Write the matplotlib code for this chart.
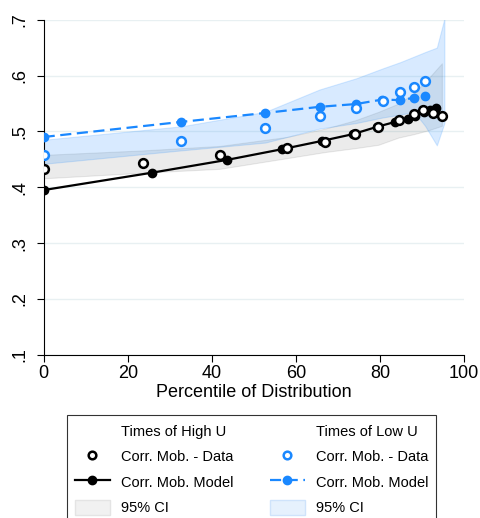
import matplotlib

matplotlib.use("Agg")
import matplotlib.pyplot as plt  # noqa: E402
from matplotlib.lines import Line2D  # noqa: E402
from matplotlib.patches import Patch  # noqa: E402

plt.rcParams["font.family"] = ["Liberation Sans", "DejaVu Sans"]

BLUE = "#1a88ff"

# times of high unemployment
high_data_x = [0, 23.6, 41.9, 57.8, 66.9, 74.1, 79.6, 84.4, 88.0, 90.3, 92.7, 94.7]
high_data_y = [0.433, 0.444, 0.458, 0.470, 0.481, 0.495, 0.508, 0.520, 0.531, 0.538, 0.533, 0.528]
high_model_x = [0, 25.7, 43.6, 56.6, 66.2, 73.5, 79.2, 83.6, 86.6, 88.4, 90.4, 91.8, 93.3]
high_model_y = [0.395, 0.426, 0.449, 0.468, 0.483, 0.495, 0.508, 0.517, 0.523, 0.528, 0.534, 0.538, 0.542]
high_ci_x = [0, 23.6, 41.9, 57.8, 66.9, 74.1, 79.6, 84.4, 88.0, 91.5, 94.7]
high_ci_lo = [0.416, 0.426, 0.433, 0.452, 0.463, 0.470, 0.476, 0.489, 0.495, 0.502, 0.510]
high_ci_hi = [0.458, 0.466, 0.474, 0.490, 0.505, 0.520, 0.535, 0.550, 0.568, 0.595, 0.622]

# times of low unemployment
low_data_x = [0, 32.7, 52.7, 65.6, 74.3, 80.7, 84.8, 88.1, 90.7]
low_data_y = [0.458, 0.483, 0.506, 0.528, 0.541, 0.555, 0.570, 0.580, 0.590]
low_model_x = [0, 32.7, 52.7, 65.6, 74.3, 80.5, 84.8, 88.1, 90.7]
low_model_y = [0.490, 0.517, 0.533, 0.544, 0.549, 0.557, 0.556, 0.560, 0.563]
low_ci_x = [0, 32.7, 52.7, 65.6, 74.3, 80.7, 84.8, 88.1, 90.7, 93.5, 95.3]
low_ci_lo = [0.442, 0.466, 0.480, 0.505, 0.515, 0.525, 0.530, 0.535, 0.510, 0.475, 0.515]
low_ci_hi = [0.485, 0.509, 0.535, 0.575, 0.595, 0.613, 0.624, 0.634, 0.642, 0.650, 0.702]

y_ticks = [0.1, 0.2, 0.3, 0.4, 0.5, 0.6, 0.7]
y_labels = [".1", ".2", ".3", ".4", ".5", ".6", ".7"]
x_ticks = [0, 20, 40, 60, 80, 100]

fig = plt.figure(figsize=(4.8, 5.18), dpi=100)
ax = fig.add_axes([0.091, 0.315, 0.876, 0.647])

ax.fill_between(high_ci_x, high_ci_lo, high_ci_hi, color="black", alpha=0.08, lw=0.8,
                edgecolor=(0, 0, 0, 0.05), zorder=1)
ax.fill_between(low_ci_x, low_ci_lo, low_ci_hi, color=BLUE, alpha=0.17, lw=0.8, zorder=1)

ax.plot(high_model_x, high_model_y, color="black", lw=1.6, marker="o", ms=6, zorder=3)
ax.plot(low_model_x, low_model_y, color=BLUE, lw=1.6, marker="o", ms=6,
        dashes=(5, 2.5), zorder=3)
ax.plot(high_data_x, high_data_y, ls="none", marker="o", ms=6.3, mfc="white", mec="black",
        mew=1.8, zorder=4)
ax.plot(low_data_x, low_data_y, ls="none", marker="o", ms=6.3, mfc="white", mec=BLUE,
        mew=1.8, zorder=4)

ax.set_xlim(0, 100)
ax.set_ylim(0.1, 0.7)
ax.set_xticks(x_ticks)
ax.set_yticks(y_ticks)
ax.set_yticklabels(y_labels, rotation=90, va="center")
ax.tick_params(labelsize=13, length=5, width=0.8)
ax.tick_params(axis="y", pad=6)
ax.tick_params(axis="x", pad=2)
ax.set_xlabel("Percentile of Distribution", fontsize=13, labelpad=2)
ax.grid(axis="y", color="#e8f0f2", lw=1.0)
ax.set_axisbelow(True)
for side in ("top", "right"):
    ax.spines[side].set_visible(False)
for side in ("left", "bottom"):
    ax.spines[side].set_linewidth(0.8)
ax.patch.set_alpha(0)

blank = Line2D([], [], ls="none")
handles = [
    blank,
    Line2D([], [], ls="none", marker="o", ms=5.5, mfc="white", mec="black", mew=1.8),
    Line2D([], [], color="black", lw=1.6, marker="o", ms=6),
    Patch(facecolor="#f1f1f1", edgecolor="#e4e4e4"),
    blank,
    Line2D([], [], ls="none", marker="o", ms=5.5, mfc="white", mec=BLUE, mew=1.8),
    Line2D([], [], color=BLUE, lw=1.6, marker="o", ms=6, dashes=(5, 2.5)),
    Patch(facecolor="#e6f1fd", edgecolor="#cfe3fb"),
]
labels = [
    "Times of High U", "Corr. Mob. - Data", "Corr. Mob. Model", "95% CI",
    "Times of Low U", "Corr. Mob. - Data", "Corr. Mob. Model", "95% CI",
]
leg = fig.legend(handles, labels, ncol=2, loc="upper left", bbox_to_anchor=(0.139, 0.199),
                 fontsize=10.5, frameon=True, fancybox=False, edgecolor="black",
                 handlelength=2.4, handleheight=1.3, handletextpad=0.75, columnspacing=2.5,
                 labelspacing=0.66, borderpad=0.55, borderaxespad=0)
leg.get_frame().set_linewidth(0.8)

fig.savefig("out.png", dpi=100)
